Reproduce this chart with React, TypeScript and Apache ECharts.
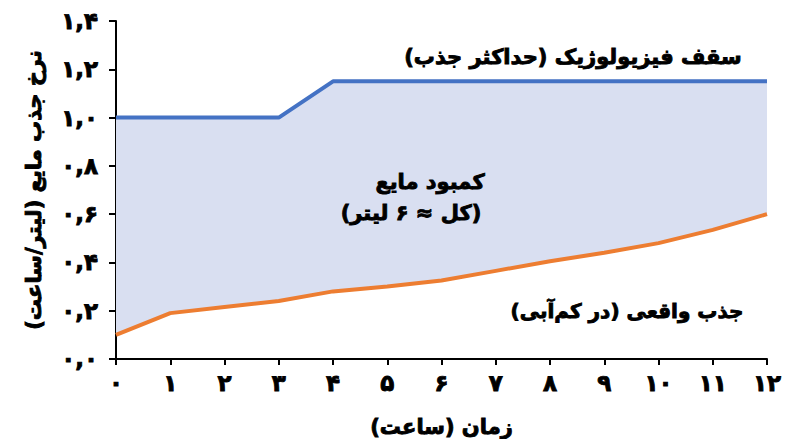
import { useEffect, useRef } from "react";
import * as echarts from "echarts";

// ساعت‌ها (محور افقی)
const hours = ["۰", "۱", "۲", "۳", "۴", "۵", "۶", "۷", "۸", "۹", "۱۰", "۱۱", "۱۲"];
// سقف فیزیولوژیک (حداکثر جذب) - لیتر/ساعت
const ceiling = [1.0, 1.0, 1.0, 1.0, 1.15, 1.15, 1.15, 1.15, 1.15, 1.15, 1.15, 1.15, 1.15];
// جذب واقعی (در کم‌آبی)
const actual = [0.1, 0.19, 0.215, 0.24, 0.28, 0.3, 0.325, 0.365, 0.405, 0.44, 0.48, 0.535, 0.6];
// برچسب‌های محور عمودی
const yTickLabels = ["۰,۰", "۰,۲", "۰,۴", "۰,۶", "۰,۸", "۱,۰", "۱,۲", "۱,۴"];

const FONT = "'DejaVu Sans', sans-serif";
const BLUE = "#4472c4";
const ORANGE = "#ed7d31";
const FILL = "#d9dff1";

// the Arabic glyphs have no bold face here, so a thin outline thickens them
const heavy = { textBorderColor: "#000", textBorderWidth: 0.9 };

export default function App() {
  const chartRef = useRef<HTMLDivElement>(null);

  useEffect(() => {
    if (!chartRef.current) return;
    const chart = echarts.init(chartRef.current, null, { renderer: "svg" });

    const gap = ceiling.map((c, i) => +(c - actual[i]).toFixed(3));
    const txt = {
      fontFamily: FONT,
      fontWeight: "bold" as const,
      fill: "#000",
      stroke: "#000",
      lineWidth: 0.9,
      align: "center" as const,
      verticalAlign: "middle" as const,
    };

    const option: echarts.EChartsOption = {
      animation: false,
      backgroundColor: "#fff",
      grid: { left: 116, right: 33, top: 21, bottom: 88 },
      xAxis: {
        type: "category",
        data: hours,
        boundaryGap: false,
        name: "زمان (ساعت)",
        nameLocation: "middle",
        nameGap: 57,
        nameTextStyle: { fontFamily: FONT, fontWeight: "bold", fontSize: 21, color: "#000", ...heavy },
        axisLine: { lineStyle: { color: "#000", width: 2 } },
        axisTick: { length: 6, lineStyle: { color: "#000", width: 2 } },
        axisLabel: { fontFamily: FONT, fontWeight: "bold", fontSize: 23, color: "#000", margin: 12, ...heavy },
        splitLine: { show: false },
      },
      yAxis: {
        type: "value",
        min: 0,
        max: 1.4,
        interval: 0.2,
        name: "نرخ جذب مایع (لیتر/ساعت)",
        nameLocation: "middle",
        nameGap: 72,
        nameTextStyle: { fontFamily: FONT, fontWeight: "bold", fontSize: 21, color: "#000", ...heavy },
        axisLine: { show: true, lineStyle: { color: "#000", width: 2 } },
        axisTick: { show: true, length: 7, lineStyle: { color: "#000", width: 2 } },
        axisLabel: {
          fontFamily: FONT,
          fontWeight: "bold",
          fontSize: 23,
          color: "#000",
          margin: 18,
          ...heavy,
          formatter: (v: number) => yTickLabels[Math.round(v / 0.2)] ?? "",
        },
        splitLine: { show: false },
      },
      series: [
        {
          type: "line",
          stack: "band",
          data: actual,
          symbol: "none",
          lineStyle: { opacity: 0 },
          silent: true,
        },
        {
          type: "line",
          stack: "band",
          data: gap,
          symbol: "none",
          lineStyle: { opacity: 0 },
          areaStyle: { color: FILL, opacity: 1 },
          silent: true,
        },
        {
          name: "سقف فیزیولوژیک",
          type: "line",
          data: ceiling,
          symbol: "none",
          lineStyle: { color: BLUE, width: 4 },
          z: 3,
        },
        {
          name: "جذب واقعی",
          type: "line",
          data: actual,
          symbol: "none",
          lineStyle: { color: ORANGE, width: 4 },
          z: 3,
        },
      ],
      graphic: [
        {
          type: "text",
          x: 573,
          y: 57,
          z: 100,
          style: { ...txt, text: "سقف فیزیولوژیک (حداکثر جذب)", fontSize: 21 },
        },
        {
          type: "text",
          x: 430,
          y: 182,
          z: 100,
          style: { ...txt, text: "کمبود مایع", fontSize: 21 },
        },
        {
          type: "text",
          x: 411,
          y: 213,
          z: 100,
          style: { ...txt, text: "(کل ≈ ۶ لیتر)", fontSize: 21 },
        },
        {
          type: "text",
          x: 627,
          y: 311,
          z: 100,
          style: { ...txt, text: "جذب واقعی (در کم‌آبی)", fontSize: 20 },
        },
      ],
    };

    chart.setOption(option);
    return () => chart.dispose();
  }, []);

  return <div ref={chartRef} style={{ width: 800, height: 447, margin: -8 }} />;
}
